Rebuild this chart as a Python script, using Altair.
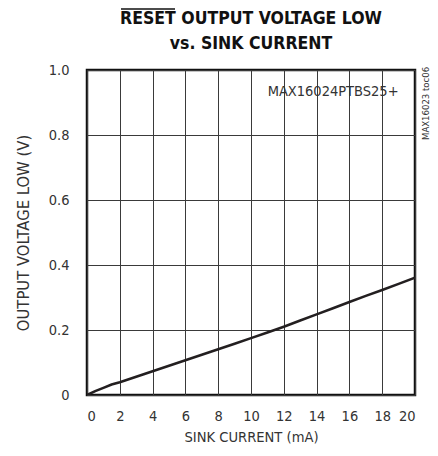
import altair as alt
import pandas as pd

current = [0, 0.5, 1.0, 1.5, 2, 3, 4, 5, 6, 7, 8, 9, 10, 11, 12, 13, 14, 15, 16, 17, 18, 19, 20]
voltage = [0, 0.012, 0.022, 0.032, 0.039, 0.056, 0.073, 0.09, 0.107, 0.124, 0.141, 0.158, 0.175, 0.192, 0.21, 0.229, 0.248, 0.267, 0.286, 0.305, 0.323, 0.342, 0.361]
x_ticks = [0, 2, 4, 6, 8, 10, 12, 14, 16, 18, 20]
y_ticks = [0, 0.2, 0.4, 0.6, 0.8, 1.0]
title_lines = ["RESET OUTPUT VOLTAGE LOW", "vs. SINK CURRENT"]

FONT = "DejaVu Sans Condensed, Liberation Sans, sans-serif"

df = pd.DataFrame({"x": current, "y": voltage})

xs = alt.Scale(domain=[0, 20], nice=False, zero=False)
ys = alt.Scale(domain=[0, 1.0], nice=False, zero=False)

x_axis = alt.Axis(values=x_ticks, title="SINK CURRENT (mA)", grid=True,
                  gridColor="#3a3a3a", gridWidth=1, gridOpacity=1,
                  ticks=False, domain=False, labelPadding=14, labelOverlap=False,
                  labelFontSize=14.5, labelColor="#333333", labelFont=FONT,
                  titleFont=FONT, titleFontSize=14.6, titleFontWeight="normal",
                  titleColor="#333333", titlePadding=7)
y_axis = alt.Axis(values=y_ticks, title="OUTPUT VOLTAGE LOW (V)", grid=True,
                  gridColor="#3a3a3a", gridWidth=1, gridOpacity=1,
                  ticks=False, domain=False, labelPadding=18, labelOverlap=False,
                  labelExpr="datum.value == 0 ? '0' : format(datum.value, '.1f')",
                  labelFontSize=14.5, labelColor="#333333", labelFont=FONT,
                  titleFont=FONT, titleFontSize=16.5, titleFontWeight="normal",
                  titleColor="#333333", titlePadding=17)

line = alt.Chart(df).mark_line(color="#231f20", strokeWidth=2.6, clip=True).encode(
    x=alt.X("x:Q", scale=xs, axis=x_axis),
    y=alt.Y("y:Q", scale=ys, axis=y_axis),
)

label = alt.Chart(pd.DataFrame({"x": [19.0], "y": [0.932], "t": ["MAX16024PTBS25+"]})).mark_text(
    align="right", baseline="middle", font=FONT, fontSize=14.5, color="#333333"
).encode(x=alt.X("x:Q", scale=xs, axis=x_axis), y=alt.Y("y:Q", scale=ys, axis=y_axis), text="t:N")

toc = alt.Chart(pd.DataFrame({"t": ["MAX16023 toc06"]})).mark_text(
    angle=270, align="left", baseline="middle", font=FONT, fontSize=9.5, color="#333333"
).encode(x=alt.value(339), y=alt.value(70), text="t:N")

title = alt.Chart(pd.DataFrame({"t": title_lines, "yy": [-51, -26]})).mark_text(
    align="center", baseline="middle", font=FONT, fontSize=17.5, fontWeight="bold", color="#111111"
).encode(x=alt.value(164), y=alt.Y("yy:Q", scale=None), text="t:N")

overline = alt.Chart(pd.DataFrame({"a": [1]})).mark_rule(color="#111111", strokeWidth=1.5).encode(
    x=alt.value(34), x2=alt.value(88), y=alt.value(-61)
)

chart = alt.layer(line, label, toc, title, overline).properties(
    width=328, height=325,
    autosize=alt.AutoSizeParams(type="none"),
    padding={"left": 79, "top": 62, "right": 15, "bottom": 53},
).configure_view(stroke="#111111", strokeWidth=2.5)

chart.save("out.html", embed_options={"renderer": "svg", "actions": False})
